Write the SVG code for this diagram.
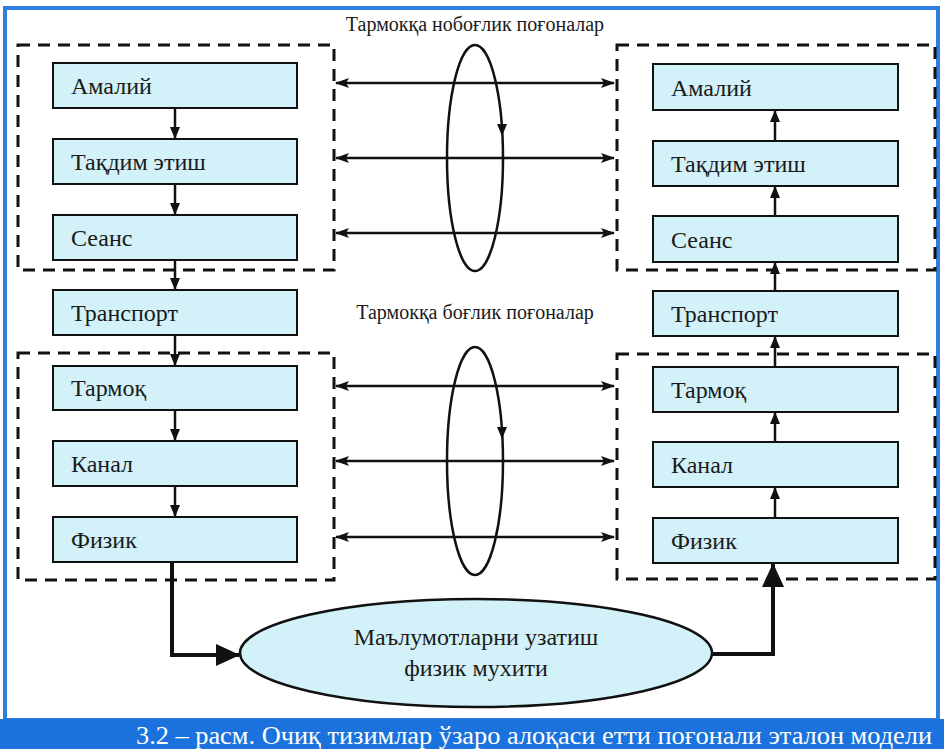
<svg xmlns="http://www.w3.org/2000/svg" width="944" height="749" viewBox="0 0 944 749">
<defs>
<style>
.box{fill:#d2f1f8;stroke:#111;stroke-width:2}
.lbl{font-family:"Liberation Serif","Tinos","Times New Roman","DejaVu Serif",serif;font-size:24px;fill:#1a1a1a}
.hdr{font-family:"Liberation Serif","Tinos","Times New Roman","DejaVu Serif",serif;font-size:20px;fill:#1a1a1a}
.cap{font-family:"Liberation Serif","Tinos","Times New Roman","DejaVu Serif",serif;font-size:25px;fill:#fff}
.dash{fill:none;stroke:#111;stroke-width:3;stroke-dasharray:12,8}
.ln{stroke:#111;stroke-width:2.5;fill:none}
.thick{stroke:#111;stroke-width:4;fill:none}
.ell{fill:none;stroke:#111;stroke-width:2.5}
</style>
<marker id="ah" markerWidth="12" markerHeight="10" refX="11" refY="5" orient="auto" markerUnits="userSpaceOnUse">
<path d="M0,0 L12,5 L0,10 z" fill="#111"/>
</marker>
<marker id="ahs" markerWidth="14" markerHeight="12" refX="13" refY="6" orient="auto-start-reverse" markerUnits="userSpaceOnUse">
<path d="M0,1 L14,6 L0,11 L3,6 z" fill="#111"/>
</marker>
<marker id="big" markerWidth="24" markerHeight="22" refX="23" refY="11" orient="auto" markerUnits="userSpaceOnUse">
<path d="M0,0 L24,11 L0,22 z" fill="#111"/>
</marker>
</defs>
<rect x="0" y="0" width="944" height="749" fill="#fff"/>
<rect x="5" y="8" width="933" height="712" fill="none" stroke="#2c7ee0" stroke-width="4"/>
<rect x="0" y="719" width="944" height="30" fill="#1b72dc"/>
<text class="cap" x="136" y="744" textLength="796" lengthAdjust="spacingAndGlyphs">3.2 – расм. Очиқ тизимлар ўзаро алоқаси етти поғонали эталон модели</text>

<text class="hdr" x="475" y="31" text-anchor="middle">Тармокқа нобоғлик поғоналар</text>
<text class="hdr" x="475" y="319" text-anchor="middle">Тармокқа боғлик поғоналар</text>

<g id="groups">
<rect class="dash" x="18" y="45" width="316" height="225"/>
<rect class="dash" x="18" y="353" width="316" height="227"/>
<rect class="dash" x="617" y="45" width="318" height="225"/>
<rect class="dash" x="617" y="354" width="318" height="225"/>
</g>

<g id="connectors">
<line class="ln" x1="175" y1="108" x2="175" y2="138" marker-end="url(#ah)"/>
<line class="ln" x1="175" y1="184" x2="175" y2="214" marker-end="url(#ah)"/>
<line class="ln" x1="175" y1="260" x2="175" y2="289" marker-end="url(#ah)"/>
<line class="ln" x1="175" y1="335" x2="175" y2="365" marker-end="url(#ah)"/>
<line class="ln" x1="175" y1="410" x2="175" y2="440" marker-end="url(#ah)"/>
<line class="ln" x1="175" y1="486" x2="175" y2="516" marker-end="url(#ah)"/>
<line class="ln" x1="775" y1="141" x2="775" y2="111" marker-end="url(#ah)"/>
<line class="ln" x1="775" y1="216" x2="775" y2="187" marker-end="url(#ah)"/>
<line class="ln" x1="775" y1="291" x2="775" y2="263" marker-end="url(#ah)"/>
<line class="ln" x1="775" y1="367" x2="775" y2="337" marker-end="url(#ah)"/>
<line class="ln" x1="775" y1="442" x2="775" y2="413" marker-end="url(#ah)"/>
<line class="ln" x1="775" y1="518" x2="775" y2="488" marker-end="url(#ah)"/>
<line class="ln" x1="336" y1="83" x2="614" y2="83" marker-start="url(#ahs)" marker-end="url(#ahs)"/>
<line class="ln" x1="336" y1="158" x2="614" y2="158" marker-start="url(#ahs)" marker-end="url(#ahs)"/>
<line class="ln" x1="336" y1="233" x2="614" y2="233" marker-start="url(#ahs)" marker-end="url(#ahs)"/>
<line class="ln" x1="336" y1="386" x2="614" y2="386" marker-start="url(#ahs)" marker-end="url(#ahs)"/>
<line class="ln" x1="336" y1="461" x2="614" y2="461" marker-start="url(#ahs)" marker-end="url(#ahs)"/>
<line class="ln" x1="336" y1="537" x2="614" y2="537" marker-start="url(#ahs)" marker-end="url(#ahs)"/>
<ellipse class="ell" cx="475" cy="158" rx="28" ry="113"/>
<ellipse class="ell" cx="475" cy="461" rx="28" ry="114"/>
<path d="M497,124 L507,124 L502,136 z" fill="#111"/>
<path d="M497,427 L507,427 L502,439 z" fill="#111"/>
<polyline class="thick" points="172,562 172,655 239,655" marker-end="url(#big)"/>
<polyline class="thick" points="712,654 773,654 773,564" marker-end="url(#big)"/>
</g>

<g id="n-l-amaliy"><rect class="box" x="53" y="63" width="244" height="45"/><text class="lbl" x="71" y="94">Амалий</text></g>
<g id="n-l-taqdim"><rect class="box" x="53" y="139" width="244" height="45"/><text class="lbl" x="71" y="170">Тақдим этиш</text></g>
<g id="n-l-seans"><rect class="box" x="53" y="215" width="244" height="45"/><text class="lbl" x="71" y="246">Сеанс</text></g>
<g id="n-l-transport"><rect class="box" x="53" y="290" width="244" height="45"/><text class="lbl" x="71" y="321">Транспорт</text></g>
<g id="n-l-tarmoq"><rect class="box" x="53" y="366" width="244" height="44"/><text class="lbl" x="71" y="396">Тармоқ</text></g>
<g id="n-l-kanal"><rect class="box" x="53" y="441" width="244" height="45"/><text class="lbl" x="71" y="472">Канал</text></g>
<g id="n-l-fizik"><rect class="box" x="53" y="517" width="244" height="45"/><text class="lbl" x="71" y="548">Физик</text></g>

<g id="n-r-amaliy"><rect class="box" x="653" y="64" width="245" height="46"/><text class="lbl" x="671" y="96">Амалий</text></g>
<g id="n-r-taqdim"><rect class="box" x="653" y="141" width="245" height="45"/><text class="lbl" x="671" y="172">Тақдим этиш</text></g>
<g id="n-r-seans"><rect class="box" x="653" y="216" width="245" height="46"/><text class="lbl" x="671" y="248">Сеанс</text></g>
<g id="n-r-transport"><rect class="box" x="653" y="291" width="245" height="45"/><text class="lbl" x="671" y="322">Транспорт</text></g>
<g id="n-r-tarmoq"><rect class="box" x="653" y="367" width="245" height="45"/><text class="lbl" x="671" y="398">Тармоқ</text></g>
<g id="n-r-kanal"><rect class="box" x="653" y="442" width="245" height="45"/><text class="lbl" x="671" y="473">Канал</text></g>
<g id="n-r-fizik"><rect class="box" x="653" y="518" width="245" height="45"/><text class="lbl" x="671" y="549">Физик</text></g>

<g id="n-medium">
<ellipse cx="476" cy="653" rx="236" ry="54" fill="#d2f1f8" stroke="#111" stroke-width="2.5"/>
<text class="lbl" x="476" y="645" text-anchor="middle">Маълумотларни узатиш</text>
<text class="lbl" x="476" y="676" text-anchor="middle">физик мухити</text>
</g>
</svg>
